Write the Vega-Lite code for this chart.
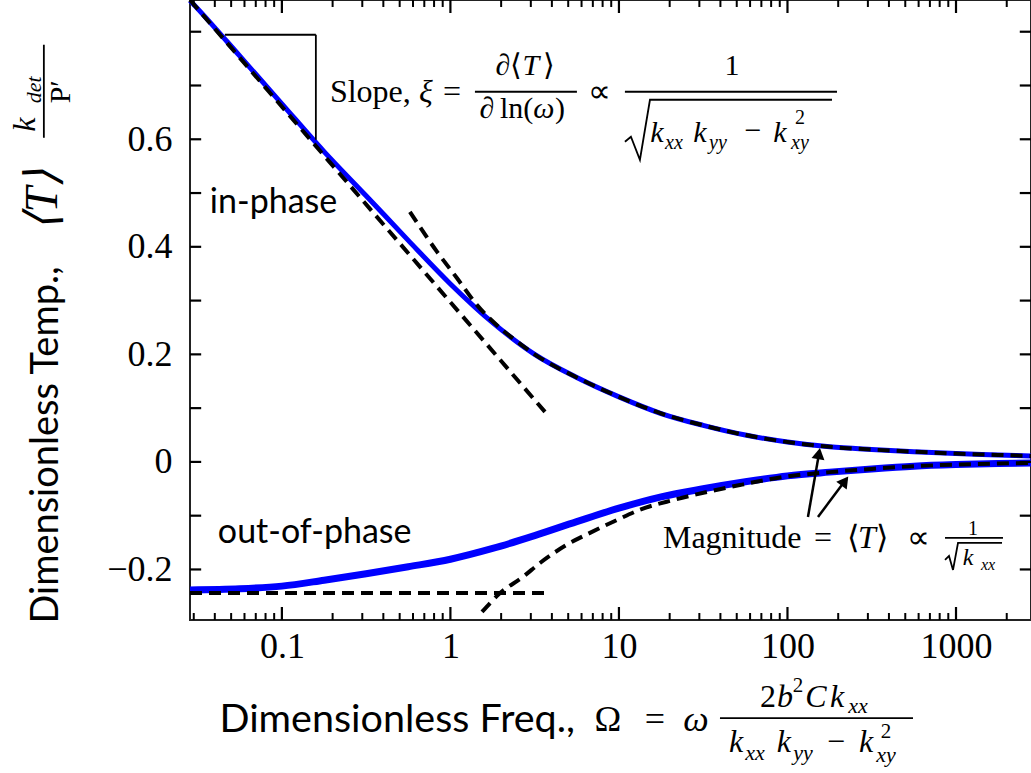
{
  "$schema": "https://vega.github.io/schema/vega-lite/v6.json",
  "width": 841,
  "height": 620,
  "autosize": {"type": "none"},
  "padding": {"left": 190, "top": 0, "right": 0, "bottom": 153},
  "background": "white",
  "config": {
    "view": {"stroke": "#222", "strokeWidth": 2},
    "axis": {"grid": false, "domain": false, "ticks": false, "labelFont": "Liberation Serif", "labelFontSize": 36, "labelColor": "black", "titleFont": "Lato", "titleFontSize": 38, "titleFontWeight": "normal", "titleColor": "black", "labelOverlap": false, "labelFlush": false}
  },
  "datasets": {
    "blue": [
      {"part": "in", "Omega": 0.0285, "T": 0.858},
      {"part": "in", "Omega": 0.0316, "T": 0.843},
      {"part": "in", "Omega": 0.0562, "T": 0.755},
      {"part": "in", "Omega": 0.1, "T": 0.666},
      {"part": "in", "Omega": 0.178, "T": 0.577},
      {"part": "in", "Omega": 0.316, "T": 0.495},
      {"part": "in", "Omega": 0.562, "T": 0.412},
      {"part": "in", "Omega": 1, "T": 0.331},
      {"part": "in", "Omega": 1.78, "T": 0.259},
      {"part": "in", "Omega": 3.16, "T": 0.200},
      {"part": "in", "Omega": 5.62, "T": 0.157},
      {"part": "in", "Omega": 10, "T": 0.121},
      {"part": "in", "Omega": 17.8, "T": 0.090},
      {"part": "in", "Omega": 31.6, "T": 0.068},
      {"part": "in", "Omega": 56.2, "T": 0.050},
      {"part": "in", "Omega": 100, "T": 0.037},
      {"part": "in", "Omega": 178, "T": 0.028},
      {"part": "in", "Omega": 316, "T": 0.023},
      {"part": "in", "Omega": 562, "T": 0.019},
      {"part": "in", "Omega": 1000, "T": 0.0155},
      {"part": "in", "Omega": 1778, "T": 0.013},
      {"part": "in", "Omega": 2786, "T": 0.011},
      {"part": "out", "Omega": 0.0285, "T": -0.238},
      {"part": "out", "Omega": 0.0562, "T": -0.236},
      {"part": "out", "Omega": 0.1, "T": -0.231},
      {"part": "out", "Omega": 0.178, "T": -0.220},
      {"part": "out", "Omega": 0.316, "T": -0.208},
      {"part": "out", "Omega": 0.562, "T": -0.195},
      {"part": "out", "Omega": 1, "T": -0.181},
      {"part": "out", "Omega": 1.78, "T": -0.161},
      {"part": "out", "Omega": 3.16, "T": -0.137},
      {"part": "out", "Omega": 5.62, "T": -0.111},
      {"part": "out", "Omega": 10, "T": -0.086},
      {"part": "out", "Omega": 17.8, "T": -0.065},
      {"part": "out", "Omega": 31.6, "T": -0.050},
      {"part": "out", "Omega": 56.2, "T": -0.037},
      {"part": "out", "Omega": 100, "T": -0.026},
      {"part": "out", "Omega": 178, "T": -0.019},
      {"part": "out", "Omega": 316, "T": -0.013},
      {"part": "out", "Omega": 562, "T": -0.008},
      {"part": "out", "Omega": 1000, "T": -0.005},
      {"part": "out", "Omega": 1778, "T": -0.003},
      {"part": "out", "Omega": 2786, "T": -0.002}
    ],
    "dash": [
      {"curve": "lf_in", "Omega": 0.0285, "T": 0.859},
      {"curve": "lf_in", "Omega": 3.64, "T": 0.093},
      {"curve": "hf_in", "Omega": 0.575, "T": 0.465},
      {"curve": "hf_in", "Omega": 0.832, "T": 0.391},
      {"curve": "hf_in", "Omega": 1.093, "T": 0.342},
      {"curve": "hf_in", "Omega": 1.435, "T": 0.292},
      {"curve": "hf_in", "Omega": 1.97, "T": 0.249},
      {"curve": "hf_in", "Omega": 2.58, "T": 0.220},
      {"curve": "hf_in", "Omega": 3.16, "T": 0.200},
      {"curve": "hf_in", "Omega": 5.62, "T": 0.157},
      {"curve": "hf_in", "Omega": 10, "T": 0.121},
      {"curve": "hf_in", "Omega": 17.8, "T": 0.090},
      {"curve": "hf_in", "Omega": 31.6, "T": 0.068},
      {"curve": "hf_in", "Omega": 56.2, "T": 0.050},
      {"curve": "hf_in", "Omega": 100, "T": 0.037},
      {"curve": "hf_in", "Omega": 178, "T": 0.028},
      {"curve": "hf_in", "Omega": 316, "T": 0.023},
      {"curve": "hf_in", "Omega": 562, "T": 0.019},
      {"curve": "hf_in", "Omega": 1000, "T": 0.0155},
      {"curve": "hf_in", "Omega": 1778, "T": 0.013},
      {"curve": "hf_in", "Omega": 2786, "T": 0.011},
      {"curve": "lf_out", "Omega": 0.0285, "T": -0.244},
      {"curve": "lf_out", "Omega": 3.64, "T": -0.244},
      {"curve": "hf_out", "Omega": 1.54, "T": -0.279},
      {"curve": "hf_out", "Omega": 1.97, "T": -0.244},
      {"curve": "hf_out", "Omega": 2.69, "T": -0.214},
      {"curve": "hf_out", "Omega": 3.40, "T": -0.188},
      {"curve": "hf_out", "Omega": 4.91, "T": -0.154},
      {"curve": "hf_out", "Omega": 6.73, "T": -0.132},
      {"curve": "hf_out", "Omega": 9.73, "T": -0.108},
      {"curve": "hf_out", "Omega": 13.3, "T": -0.089},
      {"curve": "hf_out", "Omega": 20.9, "T": -0.071},
      {"curve": "hf_out", "Omega": 33.3, "T": -0.056},
      {"curve": "hf_out", "Omega": 52.2, "T": -0.043},
      {"curve": "hf_out", "Omega": 100, "T": -0.027},
      {"curve": "hf_out", "Omega": 178, "T": -0.019},
      {"curve": "hf_out", "Omega": 316, "T": -0.013},
      {"curve": "hf_out", "Omega": 562, "T": -0.008},
      {"curve": "hf_out", "Omega": 1000, "T": -0.005},
      {"curve": "hf_out", "Omega": 1778, "T": -0.003},
      {"curve": "hf_out", "Omega": 2786, "T": -0.002}
    ],
    "xmajor": [{"Omega": 0.1}, {"Omega": 1}, {"Omega": 10}, {"Omega": 100}, {"Omega": 1000}],
    "xminor": [
      {"Omega": 0.03}, {"Omega": 0.04}, {"Omega": 0.05}, {"Omega": 0.06}, {"Omega": 0.07}, {"Omega": 0.08}, {"Omega": 0.09},
      {"Omega": 0.2}, {"Omega": 0.3}, {"Omega": 0.4}, {"Omega": 0.5}, {"Omega": 0.6}, {"Omega": 0.7}, {"Omega": 0.8}, {"Omega": 0.9},
      {"Omega": 2}, {"Omega": 3}, {"Omega": 4}, {"Omega": 5}, {"Omega": 6}, {"Omega": 7}, {"Omega": 8}, {"Omega": 9},
      {"Omega": 20}, {"Omega": 30}, {"Omega": 40}, {"Omega": 50}, {"Omega": 60}, {"Omega": 70}, {"Omega": 80}, {"Omega": 90},
      {"Omega": 200}, {"Omega": 300}, {"Omega": 400}, {"Omega": 500}, {"Omega": 600}, {"Omega": 700}, {"Omega": 800}, {"Omega": 900},
      {"Omega": 2000}
    ],
    "yticks": [{"T": -0.2}, {"T": -0.1}, {"T": 0}, {"T": 0.1}, {"T": 0.2}, {"T": 0.3}, {"T": 0.4}, {"T": 0.5}, {"T": 0.6}, {"T": 0.7}, {"T": 0.8}],
    "thin": [
      {"x1": 0.04588, "x2": 0.1591, "y1": 0.7944, "y2": 0.7944},
      {"x1": 0.1591, "x2": 0.1591, "y1": 0.7944, "y2": 0.5991},
      {"x1": 1.398, "x2": 5.632, "y1": 0.6884, "y2": 0.6884},
      {"x1": 10.85, "x2": 196.7, "y1": 0.6884, "y2": 0.6884},
      {"x1": 860.6, "x2": 1900, "y1": -0.1414, "y2": -0.1414},
      {"x1": 39.76, "x2": 555.6, "y1": -0.4763, "y2": -0.4763},
      {"x1": 0.00387, "x2": 0.00387, "y1": 0.7758, "y2": 0.6028}
    ],
    "arrows": [
      {"x1": 132.3, "x2": 153.8, "y1": -0.1023, "y2": 0.0153},
      {"x1": 151.7, "x2": 219.1, "y1": -0.1023, "y2": -0.0357}
    ],
    "rad": [
      {"g": "s", "o": 1, "Omega": 10.85, "T": 0.5953},
      {"g": "s", "o": 2, "Omega": 11.78, "T": 0.6047},
      {"g": "s", "o": 3, "Omega": 13.32, "T": 0.5619},
      {"g": "s", "o": 4, "Omega": 15.28, "T": 0.6735},
      {"g": "s", "o": 5, "Omega": 183.7, "T": 0.6735},
      {"g": "m", "o": 1, "Omega": 860.6, "T": -0.1823},
      {"g": "m", "o": 2, "Omega": 908.8, "T": -0.1749},
      {"g": "m", "o": 3, "Omega": 959.9, "T": -0.2009},
      {"g": "m", "o": 4, "Omega": 1027.8, "T": -0.1507},
      {"g": "m", "o": 5, "Omega": 1875, "T": -0.1507}
    ]
  },
  "layer": [
    {
      "data": {"name": "blue"},
      "transform": [{"filter": "datum.part == 'in'"}],
      "mark": {"type": "line", "color": "#0000ff", "strokeWidth": 5, "interpolate": "monotone"},
      "encoding": {
        "x": {"field": "Omega", "type": "quantitative", "scale": {"type": "log", "domain": [0.0285, 2786], "nice": false},
          "axis": {"orient": "bottom", "values": [0.1, 1, 10, 100, 1000], "labelPadding": 26, "labelBaseline": "middle", "labelExpr": "format(datum.value, '~g')", "title": "Dimensionless Freq.,", "titleFontSize": 39.5, "titleAnchor": "start", "titleAlign": "left", "titleX": 29, "titleY": 111, "titleBaseline": "alphabetic"}},
        "y": {"field": "T", "type": "quantitative", "scale": {"domain": [-0.294, 0.859], "nice": false, "zero": false},
          "axis": {"orient": "left", "values": [-0.2, 0, 0.2, 0.4, 0.6], "labelPadding": 18, "labelExpr": "replace(format(datum.value, '.1~f'), '-', '−')", "title": "Dimensionless Temp.,", "titleAngle": 270, "titleX": -133, "titleY": 623, "titleAlign": "left", "titleAnchor": "start", "titleBaseline": "alphabetic"}}
      }
    },
    {
      "data": {"name": "blue"},
      "transform": [{"filter": "datum.part == 'out'"}],
      "mark": {"type": "line", "color": "#0000ff", "strokeWidth": 7, "interpolate": "monotone"},
      "encoding": {
        "x": {"field": "Omega", "type": "quantitative", "scale": {"type": "log", "domain": [0.0285, 2786], "nice": false}},
        "y": {"field": "T", "type": "quantitative", "scale": {"domain": [-0.294, 0.859], "nice": false, "zero": false}}
      }
    },
    {
      "data": {"name": "dash"},
      "mark": {"type": "line", "color": "black", "strokeWidth": 4, "strokeDash": [12, 7], "interpolate": "monotone"},
      "encoding": {
        "x": {"field": "Omega", "type": "quantitative", "scale": {"type": "log", "domain": [0.0285, 2786], "nice": false}},
        "y": {"field": "T", "type": "quantitative", "scale": {"domain": [-0.294, 0.859], "nice": false, "zero": false}},
        "detail": {"field": "curve"}
      }
    },
    {
      "data": {"name": "xmajor"},
      "mark": {"type": "rule", "color": "black", "strokeWidth": 2.2},
      "encoding": {
        "x": {"field": "Omega", "type": "quantitative", "scale": {"type": "log", "domain": [0.0285, 2786], "nice": false}},
        "y": {"datum": -0.294, "type": "quantitative", "scale": {"domain": [-0.294, 0.859], "nice": false, "zero": false}},
        "y2": {"datum": -0.2698}
      }
    },
    {
      "data": {"name": "xmajor"},
      "mark": {"type": "rule", "color": "black", "strokeWidth": 2.2},
      "encoding": {
        "x": {"field": "Omega", "type": "quantitative", "scale": {"type": "log", "domain": [0.0285, 2786], "nice": false}},
        "y": {"datum": 0.859, "type": "quantitative", "scale": {"domain": [-0.294, 0.859], "nice": false, "zero": false}},
        "y2": {"datum": 0.8348}
      }
    },
    {
      "data": {"name": "xminor"},
      "mark": {"type": "rule", "color": "black", "strokeWidth": 2},
      "encoding": {
        "x": {"field": "Omega", "type": "quantitative", "scale": {"type": "log", "domain": [0.0285, 2786], "nice": false}},
        "y": {"datum": -0.294, "type": "quantitative", "scale": {"domain": [-0.294, 0.859], "nice": false, "zero": false}},
        "y2": {"datum": -0.2810}
      }
    },
    {
      "data": {"name": "xminor"},
      "mark": {"type": "rule", "color": "black", "strokeWidth": 2},
      "encoding": {
        "x": {"field": "Omega", "type": "quantitative", "scale": {"type": "log", "domain": [0.0285, 2786], "nice": false}},
        "y": {"datum": 0.859, "type": "quantitative", "scale": {"domain": [-0.294, 0.859], "nice": false, "zero": false}},
        "y2": {"datum": 0.8460}
      }
    },
    {
      "data": {"name": "yticks"},
      "mark": {"type": "rule", "color": "black", "strokeWidth": 2.2},
      "encoding": {
        "x": {"datum": 0.0285, "type": "quantitative", "scale": {"type": "log", "domain": [0.0285, 2786], "nice": false}},
        "x2": {"datum": 0.0332},
        "y": {"field": "T", "type": "quantitative", "scale": {"domain": [-0.294, 0.859], "nice": false, "zero": false}}
      }
    },
    {
      "data": {"name": "yticks"},
      "mark": {"type": "rule", "color": "black", "strokeWidth": 2.2},
      "encoding": {
        "x": {"datum": 2390, "type": "quantitative", "scale": {"type": "log", "domain": [0.0285, 2786], "nice": false}},
        "x2": {"datum": 2786},
        "y": {"field": "T", "type": "quantitative", "scale": {"domain": [-0.294, 0.859], "nice": false, "zero": false}}
      }
    },
    {
      "data": {"name": "thin"},
      "mark": {"type": "rule", "color": "black", "strokeWidth": 1.8},
      "encoding": {
        "x": {"field": "x1", "type": "quantitative", "scale": {"type": "log", "domain": [0.0285, 2786], "nice": false}},
        "x2": {"field": "x2"},
        "y": {"field": "y1", "type": "quantitative", "scale": {"domain": [-0.294, 0.859], "nice": false, "zero": false}},
        "y2": {"field": "y2"}
      }
    },
    {
      "data": {"name": "arrows"},
      "mark": {"type": "rule", "color": "black", "strokeWidth": 2.5},
      "encoding": {
        "x": {"field": "x1", "type": "quantitative", "scale": {"type": "log", "domain": [0.0285, 2786], "nice": false}},
        "x2": {"field": "x2"},
        "y": {"field": "y1", "type": "quantitative", "scale": {"domain": [-0.294, 0.859], "nice": false, "zero": false}},
        "y2": {"field": "y2"}
      }
    },
    {
      "data": {"values": [{"Omega": 153.8, "T": 0.0153}]},
      "mark": {"type": "point", "shape": "triangle-up", "filled": true, "color": "black", "opacity": 1, "size": 170, "angle": 10},
      "encoding": {
        "x": {"field": "Omega", "type": "quantitative", "scale": {"type": "log", "domain": [0.0285, 2786], "nice": false}},
        "y": {"field": "T", "type": "quantitative", "scale": {"domain": [-0.294, 0.859], "nice": false, "zero": false}}
      }
    },
    {
      "data": {"values": [{"Omega": 219.1, "T": -0.0357}]},
      "mark": {"type": "point", "shape": "triangle-up", "filled": true, "color": "black", "opacity": 1, "size": 170, "angle": 37},
      "encoding": {
        "x": {"field": "Omega", "type": "quantitative", "scale": {"type": "log", "domain": [0.0285, 2786], "nice": false}},
        "y": {"field": "T", "type": "quantitative", "scale": {"domain": [-0.294, 0.859], "nice": false, "zero": false}}
      }
    },
    {
      "data": {"name": "rad"},
      "mark": {"type": "line", "color": "black", "strokeWidth": 1.8},
      "encoding": {
        "x": {"field": "Omega", "type": "quantitative", "scale": {"type": "log", "domain": [0.0285, 2786], "nice": false}},
        "y": {"field": "T", "type": "quantitative", "scale": {"domain": [-0.294, 0.859], "nice": false, "zero": false}},
        "detail": {"field": "g"},
        "order": {"field": "o"}
      }
    },
    {
      "data": {"values": [{"label": "in-phase", "Omega": 0.03739, "T": 0.4633}, {"label": "out-of-phase", "Omega": 0.04171, "T": -0.1507}]},
      "mark": {"type": "text", "font": "Lato", "fontSize": 34, "align": "left", "baseline": "alphabetic", "color": "black"},
      "encoding": {
        "x": {"field": "Omega", "type": "quantitative", "scale": {"type": "log", "domain": [0.0285, 2786], "nice": false}},
        "y": {"field": "T", "type": "quantitative", "scale": {"domain": [-0.294, 0.859], "nice": false, "zero": false}},
        "text": {"field": "label"}
      }
    },
    {
      "data": {"values": [{"label": "Slope,", "Omega": 0.1927, "T": 0.6698}, {"label": "Magnitude", "Omega": 18.24, "T": -0.16}]},
      "mark": {"type": "text", "font": "Liberation Serif", "fontSize": 32, "align": "left", "baseline": "alphabetic", "color": "black"},
      "encoding": {
        "x": {"field": "Omega", "type": "quantitative", "scale": {"type": "log", "domain": [0.0285, 2786], "nice": false}},
        "y": {"field": "T", "type": "quantitative", "scale": {"domain": [-0.294, 0.859], "nice": false, "zero": false}},
        "text": {"field": "label"}
      }
    },
    {
      "data": {"values": [{"label": "=", "Omega": 1.021, "T": 0.6698}, {"label": "∝", "Omega": 7.713, "T": 0.6698}, {"label": "=", "Omega": 162.4, "T": -0.16}, {"label": "⟨", "Omega": 244.7, "T": -0.16}, {"label": "⟩", "Omega": 363.8, "T": -0.16}, {"label": "∝", "Omega": 595.0, "T": -0.16}]},
      "mark": {"type": "text", "font": "Liberation Serif", "fontSize": 32, "align": "center", "baseline": "alphabetic", "color": "black"},
      "encoding": {
        "x": {"field": "Omega", "type": "quantitative", "scale": {"type": "log", "domain": [0.0285, 2786], "nice": false}},
        "y": {"field": "T", "type": "quantitative", "scale": {"domain": [-0.294, 0.859], "nice": false, "zero": false}},
        "text": {"field": "label"}
      }
    },
    {
      "data": {"values": [{"label": "ξ", "Omega": 0.7155, "T": 0.6698}, {"label": "T", "Omega": 296.4, "T": -0.16}]},
      "mark": {"type": "text", "font": "Liberation Serif", "fontSize": 32, "fontStyle": "italic", "align": "center", "baseline": "alphabetic", "color": "black"},
      "encoding": {
        "x": {"field": "Omega", "type": "quantitative", "scale": {"type": "log", "domain": [0.0285, 2786], "nice": false}},
        "y": {"field": "T", "type": "quantitative", "scale": {"domain": [-0.294, 0.859], "nice": false, "zero": false}},
        "text": {"field": "label"}
      }
    },
    {
      "data": {"values": [{"label": "∂", "Omega": 2.049, "T": 0.72}, {"label": "⟨", "Omega": 2.447, "T": 0.72}, {"label": "⟩", "Omega": 3.842, "T": 0.72}, {"label": "∂", "Omega": 1.647, "T": 0.64}, {"label": ")", "Omega": 4.467, "T": 0.64}, {"label": "1", "Omega": 46.84, "T": 0.72}, {"label": "−", "Omega": 62.42, "T": 0.599}]},
      "mark": {"type": "text", "font": "Liberation Serif", "fontSize": 30, "align": "center", "baseline": "alphabetic", "color": "black"},
      "encoding": {
        "x": {"field": "Omega", "type": "quantitative", "scale": {"type": "log", "domain": [0.0285, 2786], "nice": false}},
        "y": {"field": "T", "type": "quantitative", "scale": {"domain": [-0.294, 0.859], "nice": false, "zero": false}},
        "text": {"field": "label"}
      }
    },
    {
      "data": {"values": [{"label": "ln(", "Omega": 1.967, "T": 0.64}]},
      "mark": {"type": "text", "font": "Liberation Serif", "fontSize": 30, "align": "left", "baseline": "alphabetic", "color": "black"},
      "encoding": {
        "x": {"field": "Omega", "type": "quantitative", "scale": {"type": "log", "domain": [0.0285, 2786], "nice": false}},
        "y": {"field": "T", "type": "quantitative", "scale": {"domain": [-0.294, 0.859], "nice": false, "zero": false}},
        "text": {"field": "label"}
      }
    },
    {
      "data": {"values": [{"label": "T", "Omega": 3.004, "T": 0.72}, {"label": "ω", "Omega": 3.588, "T": 0.64}, {"label": "k", "Omega": 16.81, "T": 0.5953}, {"label": "k", "Omega": 30.25, "T": 0.5953}, {"label": "k", "Omega": 90.27, "T": 0.5953}]},
      "mark": {"type": "text", "font": "Liberation Serif", "fontSize": 30, "fontStyle": "italic", "align": "center", "baseline": "alphabetic", "color": "black"},
      "encoding": {
        "x": {"field": "Omega", "type": "quantitative", "scale": {"type": "log", "domain": [0.0285, 2786], "nice": false}},
        "y": {"field": "T", "type": "quantitative", "scale": {"domain": [-0.294, 0.859], "nice": false, "zero": false}},
        "text": {"field": "label"}
      }
    },
    {
      "data": {"values": [{"label": "xx", "Omega": 21.21, "T": 0.5823}, {"label": "yy", "Omega": 38.68, "T": 0.5823}, {"label": "xy", "Omega": 118.6, "T": 0.5823}]},
      "mark": {"type": "text", "font": "Liberation Serif", "fontSize": 20, "fontStyle": "italic", "align": "center", "baseline": "alphabetic", "color": "black"},
      "encoding": {
        "x": {"field": "Omega", "type": "quantitative", "scale": {"type": "log", "domain": [0.0285, 2786], "nice": false}},
        "y": {"field": "T", "type": "quantitative", "scale": {"domain": [-0.294, 0.859], "nice": false, "zero": false}},
        "text": {"field": "label"}
      }
    },
    {
      "data": {"values": [{"label": "2", "Omega": 118.6, "T": 0.6288}, {"label": "1", "Omega": 1261.6, "T": -0.1358}]},
      "mark": {"type": "text", "font": "Liberation Serif", "fontSize": 20, "align": "center", "baseline": "alphabetic", "color": "black"},
      "encoding": {
        "x": {"field": "Omega", "type": "quantitative", "scale": {"type": "log", "domain": [0.0285, 2786], "nice": false}},
        "y": {"field": "T", "type": "quantitative", "scale": {"domain": [-0.294, 0.859], "nice": false, "zero": false}},
        "text": {"field": "label"}
      }
    },
    {
      "data": {"values": [{"label": "2", "Omega": 76.6, "T": -0.4558}, {"label": "−", "Omega": 194.0, "T": -0.5395}]},
      "mark": {"type": "text", "font": "Liberation Serif", "fontSize": 32, "align": "center", "baseline": "alphabetic", "color": "black"},
      "encoding": {
        "x": {"field": "Omega", "type": "quantitative", "scale": {"type": "log", "domain": [0.0285, 2786], "nice": false}},
        "y": {"field": "T", "type": "quantitative", "scale": {"domain": [-0.294, 0.859], "nice": false, "zero": false}},
        "text": {"field": "label"}
      }
    },
    {
      "data": {"values": [{"label": "b", "Omega": 96.6, "T": -0.4558}, {"label": "C", "Omega": 147.6, "T": -0.4558}, {"label": "k", "Omega": 196.7, "T": -0.4558}, {"label": "k", "Omega": 49.48, "T": -0.5395}, {"label": "k", "Omega": 95.3, "T": -0.5395}, {"label": "k", "Omega": 292.4, "T": -0.5395}]},
      "mark": {"type": "text", "font": "Liberation Serif", "fontSize": 32, "fontStyle": "italic", "align": "center", "baseline": "alphabetic", "color": "black"},
      "encoding": {
        "x": {"field": "Omega", "type": "quantitative", "scale": {"type": "log", "domain": [0.0285, 2786], "nice": false}},
        "y": {"field": "T", "type": "quantitative", "scale": {"domain": [-0.294, 0.859], "nice": false, "zero": false}},
        "text": {"field": "label"}
      }
    },
    {
      "data": {"values": [{"label": "xx", "Omega": 262.0, "T": -0.467}, {"label": "xx", "Omega": 64.14, "T": -0.5544}, {"label": "yy", "Omega": 123.6, "T": -0.5544}, {"label": "xy", "Omega": 384.2, "T": -0.5581}]},
      "mark": {"type": "text", "font": "Liberation Serif", "fontSize": 22, "fontStyle": "italic", "align": "center", "baseline": "alphabetic", "color": "black"},
      "encoding": {
        "x": {"field": "Omega", "type": "quantitative", "scale": {"type": "log", "domain": [0.0285, 2786], "nice": false}},
        "y": {"field": "T", "type": "quantitative", "scale": {"domain": [-0.294, 0.859], "nice": false, "zero": false}},
        "text": {"field": "label"}
      }
    },
    {
      "data": {"values": [{"label": "2", "Omega": 115.5, "T": -0.4279}, {"label": "2", "Omega": 384.2, "T": -0.5135}]},
      "mark": {"type": "text", "font": "Liberation Serif", "fontSize": 21, "align": "center", "baseline": "alphabetic", "color": "black"},
      "encoding": {
        "x": {"field": "Omega", "type": "quantitative", "scale": {"type": "log", "domain": [0.0285, 2786], "nice": false}},
        "y": {"field": "T", "type": "quantitative", "scale": {"domain": [-0.294, 0.859], "nice": false, "zero": false}},
        "text": {"field": "label"}
      }
    },
    {
      "data": {"values": [{"label": "k", "Omega": 1178, "T": -0.1916}]},
      "mark": {"type": "text", "font": "Liberation Serif", "fontSize": 24, "fontStyle": "italic", "align": "center", "baseline": "alphabetic", "color": "black"},
      "encoding": {
        "x": {"field": "Omega", "type": "quantitative", "scale": {"type": "log", "domain": [0.0285, 2786], "nice": false}},
        "y": {"field": "T", "type": "quantitative", "scale": {"domain": [-0.294, 0.859], "nice": false, "zero": false}},
        "text": {"field": "label"}
      }
    },
    {
      "data": {"values": [{"label": "xx", "Omega": 1549, "T": -0.2009}]},
      "mark": {"type": "text", "font": "Liberation Serif", "fontSize": 16, "fontStyle": "italic", "align": "center", "baseline": "alphabetic", "color": "black"},
      "encoding": {
        "x": {"field": "Omega", "type": "quantitative", "scale": {"type": "log", "domain": [0.0285, 2786], "nice": false}},
        "y": {"field": "T", "type": "quantitative", "scale": {"domain": [-0.294, 0.859], "nice": false, "zero": false}},
        "text": {"field": "label"}
      }
    },
    {
      "data": {"values": [{"label": "Ω", "Omega": 8.604, "T": -0.5005}, {"label": "=", "Omega": 16.35, "T": -0.5005}]},
      "mark": {"type": "text", "font": "Liberation Serif", "fontSize": 36, "align": "center", "baseline": "alphabetic", "color": "black"},
      "encoding": {
        "x": {"field": "Omega", "type": "quantitative", "scale": {"type": "log", "domain": [0.0285, 2786], "nice": false}},
        "y": {"field": "T", "type": "quantitative", "scale": {"domain": [-0.294, 0.859], "nice": false, "zero": false}},
        "text": {"field": "label"}
      }
    },
    {
      "data": {"values": [{"label": "ω", "Omega": 28.64, "T": -0.5005}]},
      "mark": {"type": "text", "font": "Liberation Serif", "fontSize": 36, "fontStyle": "italic", "align": "center", "baseline": "alphabetic", "color": "black"},
      "encoding": {
        "x": {"field": "Omega", "type": "quantitative", "scale": {"type": "log", "domain": [0.0285, 2786], "nice": false}},
        "y": {"field": "T", "type": "quantitative", "scale": {"domain": [-0.294, 0.859], "nice": false, "zero": false}},
        "text": {"field": "label"}
      }
    },
    {
      "data": {"values": [{"label": "⟨T⟩", "Omega": 0.004621, "T": 0.4875}]},
      "mark": {"type": "text", "font": "Liberation Serif", "fontSize": 46, "fontStyle": "italic", "align": "center", "baseline": "alphabetic", "angle": 270, "color": "black"},
      "encoding": {
        "x": {"field": "Omega", "type": "quantitative", "scale": {"type": "log", "domain": [0.0285, 2786], "nice": false}},
        "y": {"field": "T", "type": "quantitative", "scale": {"domain": [-0.294, 0.859], "nice": false, "zero": false}},
        "text": {"field": "label"}
      }
    },
    {
      "data": {"values": [{"label": "k", "Omega": 0.00342, "T": 0.627}]},
      "mark": {"type": "text", "font": "Liberation Serif", "fontSize": 32, "fontStyle": "italic", "align": "center", "baseline": "alphabetic", "angle": 270, "color": "black"},
      "encoding": {
        "x": {"field": "Omega", "type": "quantitative", "scale": {"type": "log", "domain": [0.0285, 2786], "nice": false}},
        "y": {"field": "T", "type": "quantitative", "scale": {"domain": [-0.294, 0.859], "nice": false, "zero": false}},
        "text": {"field": "label"}
      }
    },
    {
      "data": {"values": [{"label": "det", "Omega": 0.003713, "T": 0.692}]},
      "mark": {"type": "text", "font": "Liberation Serif", "fontSize": 22, "fontStyle": "italic", "align": "center", "baseline": "alphabetic", "angle": 270, "color": "black"},
      "encoding": {
        "x": {"field": "Omega", "type": "quantitative", "scale": {"type": "log", "domain": [0.0285, 2786], "nice": false}},
        "y": {"field": "T", "type": "quantitative", "scale": {"domain": [-0.294, 0.859], "nice": false, "zero": false}},
        "text": {"field": "label"}
      }
    },
    {
      "data": {"values": [{"label": "P′", "Omega": 0.005518, "T": 0.6884}]},
      "mark": {"type": "text", "font": "Liberation Serif", "fontSize": 30, "align": "center", "baseline": "alphabetic", "angle": 270, "color": "black"},
      "encoding": {
        "x": {"field": "Omega", "type": "quantitative", "scale": {"type": "log", "domain": [0.0285, 2786], "nice": false}},
        "y": {"field": "T", "type": "quantitative", "scale": {"domain": [-0.294, 0.859], "nice": false, "zero": false}},
        "text": {"field": "label"}
      }
    }
  ]
}
